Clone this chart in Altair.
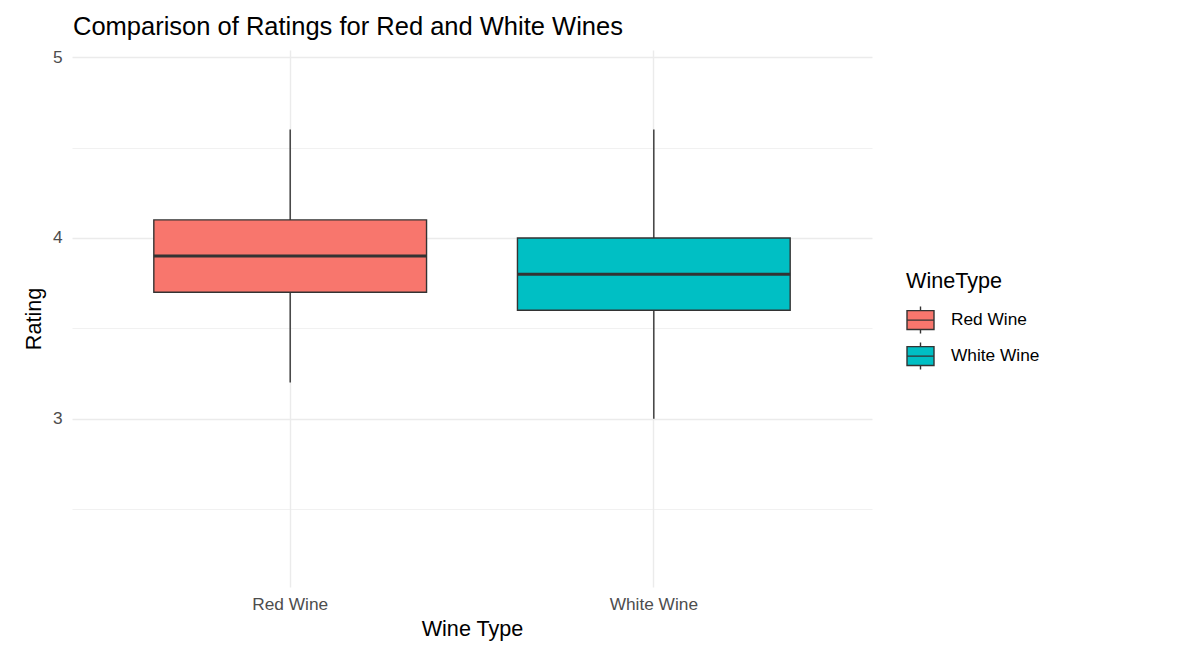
import altair as alt
import pandas as pd

wine_types = ["Red Wine", "White Wine"]
whisker_low = [3.2, 3.0]
q1 = [3.7, 3.6]
median = [3.9, 3.8]
q3 = [4.1, 4.0]
whisker_high = [4.6, 4.6]
fill_colors = ["#F8766D", "#00BFC4"]
y_ticks = [2.5, 3, 3.5, 4, 4.5, 5]
y_domain = [2.069, 5.04]

df = pd.DataFrame({
    "WineType": wine_types,
    "low": whisker_low,
    "q1": q1,
    "median": median,
    "q3": q3,
    "high": whisker_high,
})

FONT = "Liberation Sans"

x_enc = alt.X(
    "WineType:N",
    title="Wine Type",
    scale=alt.Scale(paddingInner=0.25, paddingOuter=0.225),
    axis=alt.Axis(
        labelAngle=0, grid=True, gridColor="#EBEBEB", gridWidth=1.4,
        domain=False, ticks=False, labelPadding=8, bandPosition=0.5,
        labelFontSize=17.3, labelColor="#4D4D4D", labelFont=FONT,
        titleFontSize=21.6, titleColor="black", titleFont=FONT,
        titleFontWeight="normal", titlePadding=6,
    ),
)

y_scale = alt.Scale(domain=y_domain, zero=False, nice=False)

whiskers = alt.Chart(df).mark_rule(color="#333333", strokeWidth=1.4).encode(
    x=x_enc,
    y=alt.Y(
        "low:Q", title="Rating", scale=y_scale,
        axis=alt.Axis(
            values=y_ticks, grid=True, gridColor="#EBEBEB",
            gridWidth={"condition": {"test": "datum.value % 1 === 0", "value": 1.4}, "value": 0.7},
            labelExpr="datum.value % 1 === 0 ? format(datum.value, 'd') : ''",
            domain=False, ticks=False, labelPadding=10,
            labelFontSize=17.3, labelColor="#4D4D4D", labelFont=FONT,
            titleFontSize=21.6, titleColor="black", titleFont=FONT,
            titleFontWeight="normal", titlePadding=7,
        ),
    ),
    y2="high:Q",
)

legend = alt.Legend(
    title="WineType",
    orient="none", legendX=834, legendY=221,
    titleFontSize=21.6, titleFont=FONT, titleFontWeight="normal", titleColor="black",
    titlePadding=13,
    labelFontSize=17.3, labelFont=FONT, labelColor="black", labelOffset=16,
    symbolType="M-1,-0.7H1V0.7H-1Z M-1,0H1 M0,-0.7V-1 M0,0.7V1",
    symbolSize=729, symbolStrokeColor="#333333", symbolStrokeWidth=1.4,
    symbolOpacity=1, rowPadding=3,
)

boxes = alt.Chart(df).mark_bar(stroke="#333333", strokeWidth=1.4, opacity=1).encode(
    x=x_enc,
    y=alt.Y("q1:Q", scale=y_scale),
    y2="q3:Q",
    fill=alt.Fill("WineType:N", scale=alt.Scale(domain=wine_types, range=fill_colors), legend=legend),
)

medians = alt.Chart(df).mark_bar(stroke="#333333", strokeWidth=3, fillOpacity=0).encode(
    x=x_enc,
    y=alt.Y("median:Q", scale=y_scale),
    y2="median:Q",
)

chart = alt.layer(whiskers, boxes, medians).properties(
    width=800,
    height=537,
    title=alt.TitleParams(
        "Comparison of Ratings for Red and White Wines",
        anchor="start", frame="group", fontSize=25.5, font=FONT,
        fontWeight="normal", color="black", offset=8, dx=1,
    ),
    autosize=alt.AutoSizeParams(type="none"),
    padding={"left": 64, "top": 42, "right": 300, "bottom": 60},
).configure(background="white").configure_view(stroke="transparent", strokeWidth=0)

chart.save("out.html", embed_options={"renderer": "svg", "actions": False})
